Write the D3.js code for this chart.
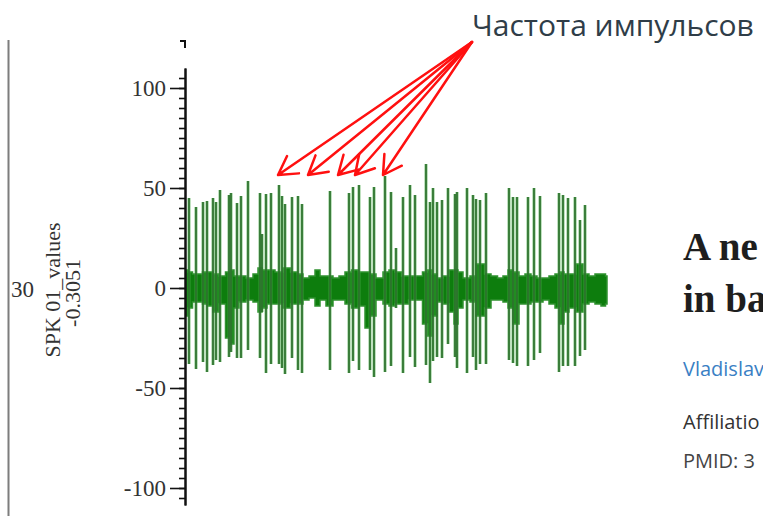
<!DOCTYPE html>
<html>
<head>
<meta charset="utf-8">
<script src="https://cdn.jsdelivr.net/npm/d3@7"></script>
<style>
  html, body { margin: 0; padding: 0; background: #fff; }
  svg { display: block; }
</style>
</head>
<body>
<svg id="chart" width="763" height="516"></svg>
<script>
// Spike train of channel SPK 01 (time in ms, amplitude in µV)
const spikeTimes = [
  3, 10, 17, 21, 27, 30, 34, 43, 45, 51,
  55, 62, 74, 76, 80, 85, 93, 96, 99, 106,
  112, 116, 144, 163, 167, 173, 184, 188, 199, 205,
  210, 217, 224, 229, 240, 244, 247, 251, 256, 262,
  269, 271, 281, 287, 290, 294, 300, 323, 327, 331,
  342, 348, 354, 373, 377, 382, 389, 394, 399
];
const spikePeaks = [
  45, 40.5, 43, 43.5, 45, 43, 49, 46.5, 47.5, 42.5,
  46, 53.5, 47.5, 27, 47, 47.5, 51.5, 46, 42, 45.5,
  46, 42, 48.5, 47.5, 50.5, 51.5, 45.5, 50.5, 56, 48,
  20, 45.5, 51.5, 46.5, 62, 43, 50, 43, 44, 50,
  47, 48, 50, 46.5, 44.5, 44, 47.5, 50, 45.5, 45.5,
  45.5, 50, 46, 47.5, 46.5, 45, 45.5, 34, 41.5
];
const spikeTroughs = [
  -38, -40.5, -37, -42, -38.5, -36, -37, -34.5, -32, -35,
  -35, -31, -35, -12, -42.5, -38, -38, -40, -43, -35,
  -41, -42.5, -41, -42.5, -36.5, -41, -41, -44.5, -42, -39,
  -10, -42.5, -34.5, -39.5, -38.5, -47.5, -36.5, -34.5, -35, -28,
  -34.5, -40, -42.5, -34.5, -41, -38, -38, -36, -37.5, -39,
  -39, -36, -32.5, -42, -39, -39, -39, -34, -31
];

// Background noise envelope of the same channel
const noiseTimes = [
  0, 4, 9, 14, 19, 24, 30, 36, 43, 46,
  50, 56, 64, 70, 74, 78, 84, 94, 100, 109,
  114, 120, 126, 132, 136, 144, 150, 156, 162, 169,
  176, 182, 186, 194, 200, 206, 212, 219, 226, 234,
  239, 244, 248, 254, 260, 266, 270, 274, 280, 288,
  292, 296, 301, 309, 314, 320, 324, 330, 336, 342,
  348, 354, 360, 366, 372, 376, 380, 386, 394, 400,
  406, 412, 418, 421
];
const noiseHigh = [
  9, 8, 7, 7, 8, 8, 7, 6, 8, 9,
  6, 6, 5, 7, 10, 9, 9, 8, 10, 8,
  7, 5, 6, 9, 6, 6, 5, 6, 8, 9,
  8, 8, 7, 5, 8, 9, 8, 6, 6, 6,
  8, 9, 7, 5, 6, 9, 9, 8, 5, 6,
  12, 12, 7, 6, 5, 6, 9, 8, 6, 7,
  6, 5, 5, 6, 7, 8, 7, 7, 12, 7,
  6, 7, 7, 6
];
const noiseLow = [
  -14, -10, -7, -7, -8, -9, -12, -8, -25, -28,
  -10, -7, -6, -7, -12, -10, -8, -8, -10, -8,
  -8, -6, -5, -9, -6, -9, -6, -6, -8, -10,
  -9, -20, -14, -6, -8, -9, -8, -8, -6, -6,
  -18, -24, -14, -7, -8, -12, -18, -10, -6, -7,
  -14, -14, -10, -6, -6, -7, -10, -18, -8, -8,
  -7, -7, -6, -8, -10, -18, -12, -10, -12, -8,
  -7, -8, -9, -8
];

const yMajorTicks = [-100, -50, 0, 50, 100];
const yMinorTicks = d3.range(-105, 110, 5);

// Annotation: arrows from the caption to individual spikes
const captionText = "Частота импульсов";
const arrowOrigin = { t: 286, v: 123 };
const arrowTargets = [92, 122, 152, 169, 197];
const arrowLevel = 56.5;

const channelName = "SPK 01_values";
const channelOffset = "-0.3051";
const channelIndex = "30";

// Article snippet beside the plot
const articleTitle = ["A ne", "in ba"];
const articleAuthor = "Vladislav";
const articleAffiliation = "Affiliatio";
const articlePmid = "PMID: 3";

const svg = d3.select("#chart");

const x = d3.scaleLinear().domain([0, 421]).range([186, 607]);
const y = d3.scaleLinear().domain([-108.5, 110]).range([505, 68]);

// left border of the panel
svg.append("line")
  .attr("x1", 8.5).attr("x2", 8.5).attr("y1", 40).attr("y2", 516)
  .attr("stroke", "#7d7d7d").attr("stroke-width", 2);

// channel labels
svg.append("text")
  .attr("x", 11).attr("y", 297)
  .attr("font-family", "Liberation Serif, serif").attr("font-size", 23)
  .attr("fill", "#333").text(channelIndex);

svg.append("text")
  .attr("transform", "translate(60,290) rotate(-90)")
  .attr("text-anchor", "middle")
  .attr("font-family", "Liberation Serif, serif").attr("font-size", 22)
  .attr("fill", "#333").text(channelName);

svg.append("text")
  .attr("transform", "translate(80,293) rotate(-90)")
  .attr("text-anchor", "middle")
  .attr("font-family", "Liberation Serif, serif").attr("font-size", 22)
  .attr("fill", "#333").text(channelOffset);

// noise band
const band = d3.area()
  .x((d, i) => x(noiseTimes[i]))
  .y0((d, i) => y(noiseLow[i]))
  .y1((d, i) => y(noiseHigh[i]))
  .curve(d3.curveStep);

svg.append("path")
  .datum(noiseTimes)
  .attr("d", band)
  .attr("fill", "#0d7d0d")
  .attr("stroke", "#2f912f")
  .attr("stroke-width", 1.5)
  .attr("stroke-linejoin", "miter");

// spikes
const spikes = svg.append("g");
spikes.selectAll("line.halo")
  .data(spikeTimes)
  .join("line")
  .attr("class", "halo")
  .attr("x1", d => x(d)).attr("x2", d => x(d))
  .attr("y1", (d, i) => y(spikePeaks[i]))
  .attr("y2", (d, i) => y(spikeTroughs[i]))
  .attr("stroke", "#48a848").attr("stroke-width", 3).attr("stroke-opacity", 0.7);
spikes.selectAll("line.core")
  .data(spikeTimes)
  .join("line")
  .attr("class", "core")
  .attr("x1", d => x(d)).attr("x2", d => x(d))
  .attr("y1", (d, i) => y(spikePeaks[i]))
  .attr("y2", (d, i) => y(spikeTroughs[i]))
  .attr("stroke", "#2a6c2a").attr("stroke-width", 1.6);

// y axis: minor then major ticks
const axisX = 185;
const minor = svg.append("g")
  .attr("transform", `translate(${axisX},0)`)
  .call(d3.axisLeft(y).tickValues(yMinorTicks).tickSize(6).tickSizeOuter(0).tickFormat(""));
const major = svg.append("g")
  .attr("transform", `translate(${axisX},0)`)
  .call(d3.axisLeft(y).tickValues(yMajorTicks).tickSize(15).tickPadding(4)
    .tickSizeOuter(0).tickFormat(d => String(d)));

[minor, major].forEach(g => {
  g.select(".domain").attr("stroke", "#111").attr("stroke-width", 2);
  g.selectAll(".tick line").attr("stroke", "#111").attr("stroke-width", 1.6);
});
major.selectAll(".tick text")
  .attr("font-family", "Liberation Serif, serif")
  .attr("font-size", 23)
  .attr("fill", "#333");

// end marker above the axis
svg.append("path")
  .attr("d", `M${axisX - 5},${y(123.5)}H${axisX}V${y(120)}`)
  .attr("fill", "none").attr("stroke", "#111").attr("stroke-width", 2);

// caption and arrows
svg.append("text")
  .attr("x", 472).attr("y", 36)
  .attr("font-family", "Open Sans, sans-serif").attr("font-size", 30)
  .attr("fill", "#2f3d48").text(captionText);

const ox = x(arrowOrigin.t), oy = y(arrowOrigin.v);
const arrows = svg.append("g")
  .attr("fill", "none").attr("stroke", "#ff1010")
  .attr("stroke-width", 2.5).attr("stroke-linecap", "round").attr("stroke-linejoin", "round");
arrowTargets.forEach(t => {
  const tx = x(t), ty = y(arrowLevel);
  const ang = Math.atan2(oy - ty, ox - tx);
  const len = 21, spread = Math.PI / 6;
  const a1 = [tx + len * Math.cos(ang + spread), ty + len * Math.sin(ang + spread)];
  const a2 = [tx + len * Math.cos(ang - spread), ty + len * Math.sin(ang - spread)];
  arrows.append("path")
    .attr("d", `M${ox},${oy}L${tx},${ty}M${a1[0]},${a1[1]}L${tx},${ty}L${a2[0]},${a2[1]}`);
});

// article snippet
const art = svg.append("g");
articleTitle.forEach((line, i) => {
  art.append("text")
    .attr("x", 683).attr("y", 260 + i * 52)
    .attr("font-family", "Liberation Serif, serif").attr("font-weight", "bold")
    .attr("font-size", 39).attr("fill", "#1e1e1e").text(line);
});
art.append("text")
  .attr("x", 683).attr("y", 376)
  .attr("font-family", "Open Sans, sans-serif").attr("font-size", 20)
  .attr("fill", "#3a7fc4").text(articleAuthor);
art.append("text")
  .attr("x", 683).attr("y", 429)
  .attr("font-family", "Open Sans, sans-serif").attr("font-size", 20)
  .attr("fill", "#333").text(articleAffiliation);
art.append("text")
  .attr("x", 683).attr("y", 468)
  .attr("font-family", "Open Sans, sans-serif").attr("font-size", 20)
  .attr("fill", "#444").text(articlePmid);
</script>
</body>
</html>
